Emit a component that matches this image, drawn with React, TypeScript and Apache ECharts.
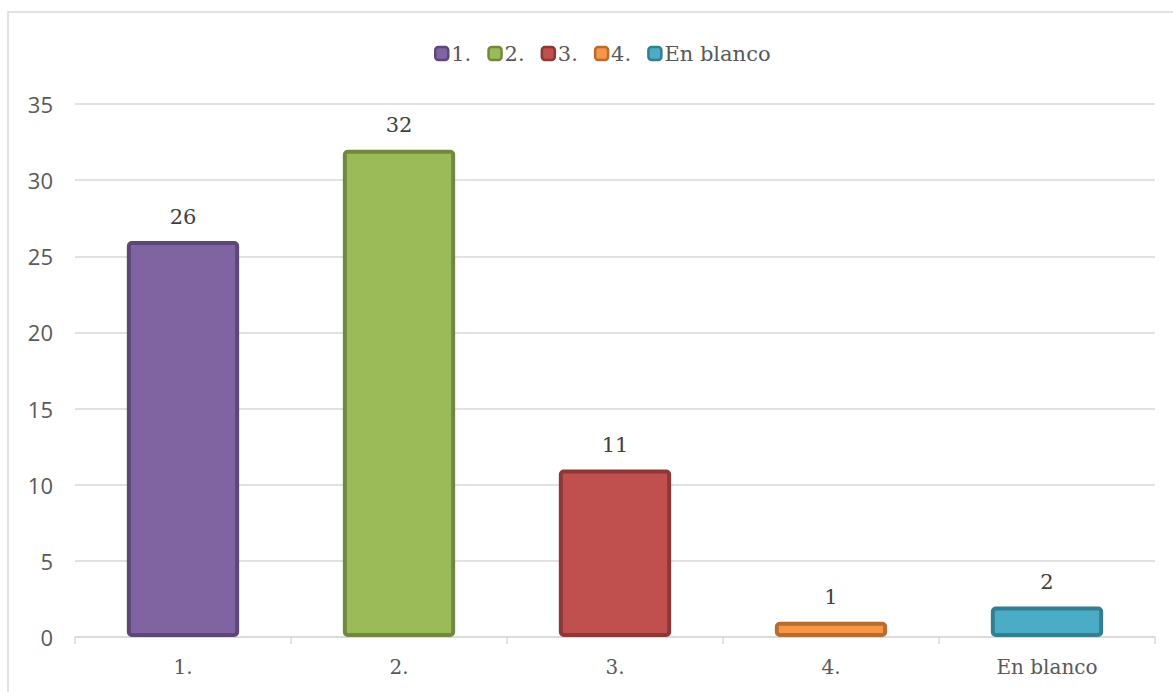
import React, { useEffect, useRef } from "react";
import * as echarts from "echarts";

// Answer options and how many responses each received
const categories = ["1.", "2.", "3.", "4.", "En blanco"];
const counts = [26, 32, 11, 1, 2];
const fillColors = ["#8064A2", "#9BBB59", "#C0504D", "#F79646", "#4BACC6"];
const edgeColors = ["#5C4776", "#71893F", "#8C3836", "#B66D31", "#357D91"];
const yTicks = { min: 0, max: 35, step: 5 };

const serif = "'DejaVu Serif', serif";
const sans = "'Open Sans', sans-serif";

export default function App() {
  const ref = useRef<HTMLDivElement>(null);

  useEffect(() => {
    if (!ref.current) return;
    const chart = echarts.init(ref.current, undefined, { renderer: "svg" });

    // One series per answer so each gets its own legend entry; stacking keeps
    // every bar centred in its own category slot.
    const series = categories.map((name, i) => ({
      name,
      type: "bar",
      stack: "total",
      barWidth: "52%",
      data: categories.map((_, j) => (j === i ? counts[i] : "-")),
      itemStyle: {
        color: fillColors[i],
        borderColor: edgeColors[i],
        borderWidth: 4,
        borderRadius: 3,
      },
      label: {
        show: true,
        position: "top",
        distance: 14,
        fontFamily: serif,
        fontSize: 21,
        color: "#404040",
      },
    }));

    chart.setOption({
      animation: false,
      backgroundColor: "#ffffff",
      graphic: [
        {
          type: "rect",
          shape: { x: 8, y: 12, width: 1300, height: 900 },
          style: { fill: "none", stroke: "#d9d9d9", lineWidth: 1.5 },
          silent: true,
        },
      ],
      legend: {
        top: 38,
        left: 429,
        itemWidth: 13,
        itemHeight: 13,
        itemGap: 16,
        icon: "roundRect",
        itemStyle: { borderWidth: 2.5 },
        textStyle: { fontFamily: serif, fontSize: 21, color: "#595959", padding: [0, 0, 0, -2] },
        data: categories,
      },
      grid: { left: 75, right: 18, top: 104, bottom: 55, containLabel: false },
      xAxis: {
        type: "category",
        data: categories,
        axisLine: { lineStyle: { color: "#d9d9d9", width: 1.5 } },
        axisTick: { show: true, alignWithLabel: false, length: 7, lineStyle: { color: "#d9d9d9", width: 1.5 } },
        axisLabel: { fontFamily: serif, fontSize: 20, color: "#595959", margin: 20 },
      },
      yAxis: {
        type: "value",
        min: yTicks.min,
        max: yTicks.max,
        interval: yTicks.step,
        axisLine: { show: false },
        axisTick: { show: false },
        axisLabel: { fontFamily: sans, fontSize: 22, color: "#595959", margin: 22 },
        splitLine: { lineStyle: { color: "#d9d9d9", width: 1.5 } },
      },
      series,
    });

    return () => chart.dispose();
  }, []);

  return (
    <div
      ref={ref}
      style={{ position: "absolute", left: 0, top: 0, width: 1173, height: 692 }}
    />
  );
}
